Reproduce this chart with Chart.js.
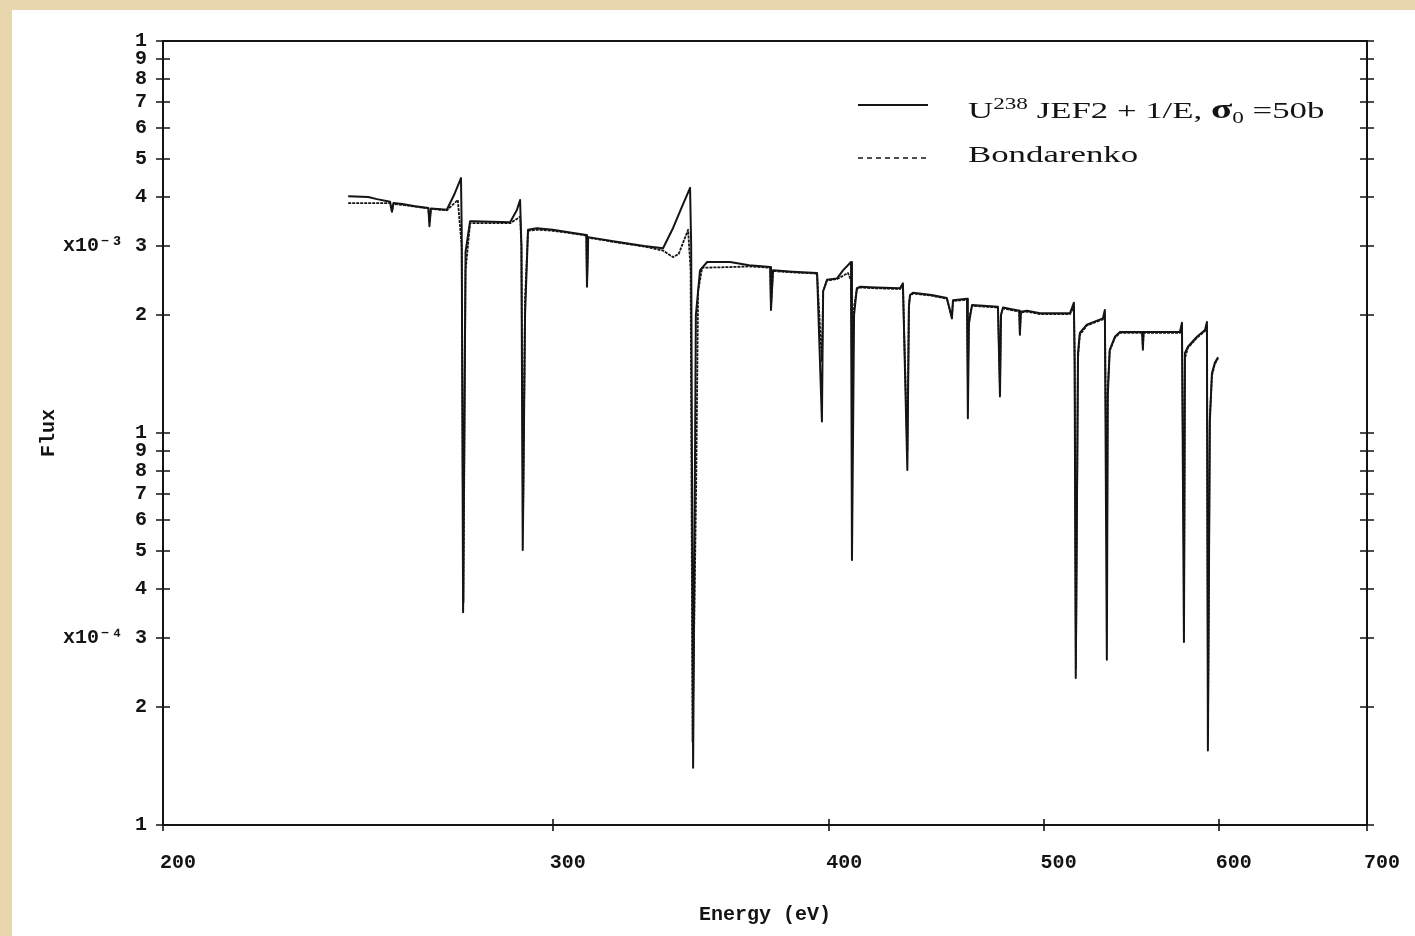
<!DOCTYPE html>
<html>
<head>
<meta charset="utf-8">
<script src="https://cdn.jsdelivr.net/npm/chart.js@4/dist/chart.umd.min.js"></script>
<style>
html,body{margin:0;padding:0;background:#fff;}
canvas{display:block;}
</style>
</head>
<body>
<canvas id="c" width="1415" height="936"></canvas>
<script>
// ---- tick values and labels ----
const xTickValues = [200, 300, 400, 500, 600, 700];
const yTickValues = [1e-4, 2e-4, 3e-4, 4e-4, 5e-4, 6e-4, 7e-4, 8e-4, 9e-4,
                     1e-3, 2e-3, 3e-3, 4e-3, 5e-3, 6e-3, 7e-3, 8e-3, 9e-3, 1e-2];
const yTickLabels = ['1', '2', 'x10\u207B\u2074 3', '4', '5', '6', '7', '8', '9',
                     '1', '2', 'x10\u207B\u00B3 3', '4', '5', '6', '7', '8', '9', '1'];

// ---- series: U238 JEF2 + 1/E, sigma0 = 50 b ----
const energyJEF2 = [
  242.5, 247.6, 249.9, 253.3, 253.8, 254.2, 256.5, 260.0, 263.6, 263.9,
  264.3, 268.7, 270.7, 272.7, 272.9, 273.3, 274.0, 275.3, 276.1, 287.0,
  289.0, 290.0, 290.4, 290.8, 291.5, 292.4, 295.1, 300.0, 305.0, 310.7,
  310.9, 311.3, 320.0, 330.0, 336.5, 340.0, 343.4, 346.1, 346.5, 347.2,
  348.2, 349.7, 352.3, 360.8, 368.0, 376.2, 376.5, 377.3, 385.0, 395.0,
  397.0, 397.5, 399.1, 403.3, 405.8, 409.2, 409.6, 410.5, 411.7, 413.0,
  420.0, 430.6, 431.9, 433.9, 434.6, 435.1, 436.4, 445.0, 452.1, 454.5,
  455.0, 461.7, 462.1, 462.6, 464.1, 476.8, 477.8, 478.3, 479.3, 487.5,
  487.8, 488.3, 491.4, 498.1, 513.9, 516.0, 516.4, 517.0, 518.2, 519.2,
  523.0, 531.8, 532.9, 534.0, 534.5, 535.6, 538.5, 541.3, 554.0, 554.4,
  554.8, 576.2, 577.4, 578.6, 579.2, 581.0, 586.5, 591.4, 592.6, 593.2,
  594.4, 595.7, 597.5, 599.5
];
const fluxJEF2 = [
  4.02e-3, 4.00e-3, 3.95e-3, 3.89e-3, 3.67e-3, 3.86e-3, 3.84e-3, 3.79e-3, 3.75e-3, 3.37e-3,
  3.74e-3, 3.71e-3, 4.04e-3, 4.47e-3, 3.30e-3, 3.49e-4, 2.90e-3, 3.47e-3, 3.47e-3, 3.45e-3,
  3.70e-3, 3.93e-3, 3.00e-3, 5.03e-4, 2.00e-3, 3.30e-3, 3.33e-3, 3.30e-3, 3.25e-3, 3.20e-3,
  2.36e-3, 3.16e-3, 3.08e-3, 3.00e-3, 2.96e-3, 3.33e-3, 3.81e-3, 4.22e-3, 3.00e-3, 1.40e-4,
  2.00e-3, 2.60e-3, 2.73e-3, 2.73e-3, 2.68e-3, 2.65e-3, 2.06e-3, 2.60e-3, 2.58e-3, 2.56e-3,
  1.07e-3, 2.30e-3, 2.46e-3, 2.48e-3, 2.60e-3, 2.73e-3, 4.74e-4, 2.00e-3, 2.34e-3, 2.36e-3,
  2.35e-3, 2.34e-3, 2.41e-3, 8.05e-4, 2.10e-3, 2.25e-3, 2.28e-3, 2.25e-3, 2.21e-3, 1.96e-3,
  2.18e-3, 2.20e-3, 1.09e-3, 1.90e-3, 2.12e-3, 2.10e-3, 1.24e-3, 2.00e-3, 2.09e-3, 2.05e-3,
  1.78e-3, 2.04e-3, 2.05e-3, 2.02e-3, 2.02e-3, 2.15e-3, 1.50e-3, 2.37e-4, 1.60e-3, 1.80e-3,
  1.89e-3, 1.96e-3, 2.06e-3, 2.64e-4, 1.24e-3, 1.63e-3, 1.76e-3, 1.81e-3, 1.81e-3, 1.63e-3,
  1.81e-3, 1.81e-3, 1.91e-3, 2.93e-4, 1.60e-3, 1.66e-3, 1.76e-3, 1.83e-3, 1.92e-3, 1.55e-4,
  1.07e-3, 1.42e-3, 1.51e-3, 1.56e-3
];

// ---- series: Bondarenko ----
const energyBond = [
  242.5, 249.9, 253.3, 253.8, 254.2, 256.5, 260.0, 263.6, 263.9, 264.3,
  268.7, 271.8, 272.9, 273.4, 274.0, 275.3, 287.0, 290.0, 290.4, 290.9,
  291.5, 292.4, 295.1, 300.0, 305.0, 310.7, 310.9, 311.3, 320.0, 330.0,
  336.5, 340.0, 342.0, 345.4, 346.3, 347.0, 348.3, 349.0, 350.5, 360.8,
  368.0, 376.2, 376.5, 377.3, 385.0, 395.0, 397.0, 397.5, 399.1, 403.3,
  407.9, 409.2, 409.6, 410.5, 411.7, 413.0, 420.0, 430.6, 431.9, 433.9,
  434.6, 435.1, 436.4, 445.0, 452.1, 454.5, 455.0, 461.7, 462.1, 462.6,
  464.1, 476.8, 477.8, 478.3, 479.3, 487.5, 487.8, 488.3, 491.4, 498.1,
  513.9, 516.0, 516.4, 517.1, 518.2, 519.2, 523.0, 531.8, 532.9, 534.1,
  534.5, 535.6, 538.5, 541.3, 554.0, 554.4, 554.8, 576.2, 577.4, 578.7,
  579.2, 581.0, 586.5, 591.4, 592.6, 593.3, 594.4, 595.7, 597.5, 599.5
];
const fluxBond = [
  3.86e-3, 3.86e-3, 3.86e-3, 3.67e-3, 3.84e-3, 3.82e-3, 3.78e-3, 3.74e-3, 3.45e-3, 3.73e-3,
  3.70e-3, 3.93e-3, 3.00e-3, 3.70e-4, 2.60e-3, 3.43e-3, 3.43e-3, 3.56e-3, 3.00e-3, 6.10e-4,
  2.20e-3, 3.28e-3, 3.30e-3, 3.28e-3, 3.24e-3, 3.19e-3, 2.40e-3, 3.15e-3, 3.07e-3, 2.99e-3,
  2.92e-3, 2.81e-3, 2.86e-3, 3.30e-3, 2.60e-3, 1.63e-4, 7.28e-4, 2.30e-3, 2.64e-3, 2.65e-3,
  2.66e-3, 2.64e-3, 2.10e-3, 2.59e-3, 2.57e-3, 2.55e-3, 1.52e-3, 2.30e-3, 2.45e-3, 2.47e-3,
  2.56e-3, 2.45e-3, 1.39e-3, 2.10e-3, 2.33e-3, 2.35e-3, 2.34e-3, 2.33e-3, 2.38e-3, 9.00e-4,
  2.10e-3, 2.24e-3, 2.27e-3, 2.24e-3, 2.20e-3, 1.98e-3, 2.17e-3, 2.19e-3, 1.39e-3, 1.95e-3,
  2.11e-3, 2.09e-3, 1.30e-3, 2.00e-3, 2.08e-3, 2.04e-3, 1.80e-3, 2.03e-3, 2.04e-3, 2.01e-3,
  2.01e-3, 2.10e-3, 1.60e-3, 2.50e-4, 1.55e-3, 1.78e-3, 1.88e-3, 1.95e-3, 2.00e-3, 5.24e-4,
  1.30e-3, 1.62e-3, 1.75e-3, 1.80e-3, 1.80e-3, 1.65e-3, 1.80e-3, 1.80e-3, 1.87e-3, 4.17e-4,
  1.55e-3, 1.65e-3, 1.75e-3, 1.82e-3, 1.88e-3, 1.89e-4, 1.10e-3, 1.40e-3, 1.50e-3, 1.55e-3
];

const seriesNames = ['U238 JEF2 + 1/E, \u03C30 =50b', 'Bondarenko'];
const axisTitles = {x: 'Energy (eV)', y: 'Flux'};

// ---- styling ----
const INK = '#141414';
const MONO = "'Liberation Mono','DejaVu Sans Mono',monospace";
const SERIF = "'Liberation Serif','DejaVu Serif',serif";
const TICK_FONT = {family: MONO, size: 20, weight: 'bold'};

const toPoints = (xs, ys) => xs.map((x, i) => ({x: x, y: ys[i]}));

const framePlugin = {
  id: 'frame',
  beforeDraw(chart) {
    const ctx = chart.ctx;
    ctx.save();
    ctx.fillStyle = '#ffffff';
    ctx.fillRect(0, 0, chart.width, chart.height);
    ctx.fillStyle = '#E8D7AE';
    ctx.fillRect(0, 0, 12, chart.height);
    ctx.fillRect(0, 0, chart.width, 10);
    ctx.restore();
  },
  afterDraw(chart) {
    const ctx = chart.ctx;
    const a = chart.chartArea;
    const xs = chart.scales.x, ys = chart.scales.y;
    ctx.save();
    ctx.strokeStyle = INK;
    ctx.lineWidth = 2;
    ctx.strokeRect(a.left, a.top, a.right - a.left, a.bottom - a.top);
    ctx.lineWidth = 1.6;
    ctx.beginPath();
    yTickValues.forEach(v => {
      const py = Math.round(ys.getPixelForValue(v));
      ctx.moveTo(a.left - 7, py); ctx.lineTo(a.left + 7, py);
      ctx.moveTo(a.right - 7, py); ctx.lineTo(a.right + 7, py);
    });
    xTickValues.forEach(v => {
      const px = Math.round(xs.getPixelForValue(v));
      ctx.moveTo(px, a.bottom - 6); ctx.lineTo(px, a.bottom + 6);
    });
    ctx.stroke();
    ctx.restore();
  }
};

const legendPlugin = {
  id: 'legendBox',
  afterDraw(chart) {
    const ctx = chart.ctx;
    const SX = 1.45;
    ctx.save();
    ctx.strokeStyle = INK;
    ctx.lineWidth = 2;
    ctx.beginPath(); ctx.moveTo(858, 105); ctx.lineTo(928, 105); ctx.stroke();
    ctx.setLineDash([5, 4]);
    ctx.lineWidth = 1.5;
    ctx.beginPath(); ctx.moveTo(858, 158); ctx.lineTo(928, 158); ctx.stroke();
    ctx.setLineDash([]);
    ctx.fillStyle = INK;
    ctx.textBaseline = 'alphabetic';
    const pieces = [
      {t: 'U', f: '24px ' + SERIF, dy: 0},
      {t: '238', f: '16px ' + SERIF, dy: -9},
      {t: ' JEF2 + 1/E, ', f: '24px ' + SERIF, dy: 0},
      {t: '\u03C3', f: 'bold 27px ' + SERIF, dy: 0},
      {t: '0', f: '16px ' + SERIF, dy: 5},
      {t: ' =50b', f: '24px ' + SERIF, dy: 0}
    ];
    let x = 968;
    pieces.forEach(p => {
      ctx.font = p.f;
      ctx.save();
      ctx.translate(x, 118 + p.dy);
      ctx.scale(SX, 1);
      ctx.fillText(p.t, 0, 0);
      ctx.restore();
      x += ctx.measureText(p.t).width * SX;
    });
    ctx.font = '24px ' + SERIF;
    ctx.save();
    ctx.translate(968, 162);
    ctx.scale(SX, 1);
    ctx.fillText(seriesNames[1], 0, 0);
    ctx.restore();
    ctx.restore();
  }
};

new Chart(document.getElementById('c').getContext('2d'), {
  type: 'line',
  data: {
    datasets: [
      {
        label: seriesNames[0],
        data: toPoints(energyJEF2, fluxJEF2),
        borderColor: INK, borderWidth: 2, pointRadius: 0,
        fill: false, tension: 0, borderJoinStyle: 'round'
      },
      {
        label: seriesNames[1],
        data: toPoints(energyBond, fluxBond),
        borderColor: INK, borderWidth: 1.8, borderDash: [3, 1], pointRadius: 0,
        fill: false, tension: 0, borderJoinStyle: 'round'
      }
    ]
  },
  options: {
    responsive: false,
    animation: false,
    devicePixelRatio: 1,
    layout: {padding: {left: 0, top: 41, right: 48, bottom: 0}},
    plugins: {legend: {display: false}, tooltip: {enabled: false}},
    scales: {
      x: {
        type: 'logarithmic', min: 200, max: 700,
        afterBuildTicks: s => { s.ticks = xTickValues.map(v => ({value: v})); },
        afterFit: s => { s.height = 111; },
        grid: {display: false, drawTicks: false},
        border: {display: false},
        ticks: {font: TICK_FONT, color: INK, labelOffset: 15, padding: 26, maxRotation: 0, autoSkip: false,
                callback: (v, i) => String(xTickValues[i])},
        title: {display: true, text: axisTitles.x, font: TICK_FONT, color: INK, padding: {top: 0, bottom: 9}}
      },
      y: {
        type: 'logarithmic', min: 1e-4, max: 1e-2,
        afterBuildTicks: s => { s.ticks = yTickValues.map(v => ({value: v})); },
        afterFit: s => { s.width = 163; },
        grid: {display: false, drawTicks: false},
        border: {display: false},
        ticks: {font: TICK_FONT, color: INK, padding: 16, autoSkip: false,
                callback: (v, i) => yTickLabels[i]},
        title: {display: true, text: axisTitles.y, font: TICK_FONT, color: INK, padding: {top: 37, bottom: 0}}
      }
    }
  },
  plugins: [framePlugin, legendPlugin]
});
</script>
</body>
</html>
